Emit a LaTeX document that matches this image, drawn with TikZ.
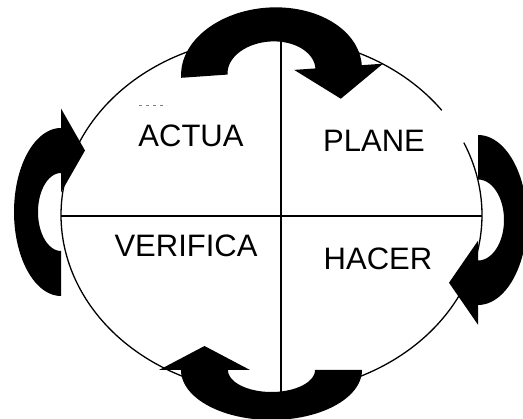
\documentclass[tikz,border=0pt]{standalone}
\usepackage{fontspec}
\setmainfont{Liberation Sans}
\newcommand\cwarrow[6]{%
  \fill[black] plot[domain=180:0,samples=72] ({#1*cos(\x)},{#2*sin(\x)})
    -- ({(#1+#3)/2+#5},0) -- ({(#1+#3)/2},{-#6}) -- ({(#1+#3)/2-#5},0)
    -- plot[domain=0:180,samples=72] ({#3*cos(\x)},{#4*sin(\x)}) -- cycle;}
\tikzset{
  label/.style={font=\fontsize{31}{31}\selectfont, anchor=base, inner sep=0pt},
  rule/.style={line width=1.3pt, black},
}
\begin{document}
\begin{tikzpicture}[x=1pt,y=1pt]
\useasboundingbox (0,0) rectangle (523,419);
\clip (0,0) rectangle (523,419);
% circle with small gap at upper right
\draw[rule] plot[domain=36:384,samples=240] ({271.5+210.5*cos(\x)},{204+178*sin(\x)});
\coordinate (L) at (61,203);
\coordinate (R) at (482,203);
\coordinate (T) at (281,382);
\coordinate (B) at (281,26);
\draw[rule] (L) -- (R);
\draw[rule] (T) -- (B);
% small dashed mark
\coordinate (d1) at (139,314);
\coordinate (d2) at (167,314);
\draw[gray, line width=0.5pt, dash pattern=on 3pt off 4pt] (d1) -- (d2);
% curved arrows
\begin{scope}[shift={(271.5,347.5)},rotate=4]
  \cwarrow{90.5}{64}{44}{30}{44.5}{32}
\end{scope}
\begin{scope}[shift={(478,199)},rotate=-90]
  \cwarrow{85}{49}{40.5}{26}{42}{29}
\end{scope}
\begin{scope}[shift={(271.5,49)},rotate=180]
  \cwarrow{90.5}{50}{43.5}{22}{45.5}{24}
\end{scope}
\begin{scope}[shift={(61,207)},rotate=90]
  \cwarrow{84}{47}{39}{23}{42}{24}
\end{scope}
% labels
\node[label] (actua) at (191,272) {ACTUA};
\node[label] (plane) at (374,267) {PLANE};
\node[label] (verifica) at (186,162) {VERIFICA};
\node[label] (hacer) at (378,149) {HACER};
\end{tikzpicture}
\end{document}
